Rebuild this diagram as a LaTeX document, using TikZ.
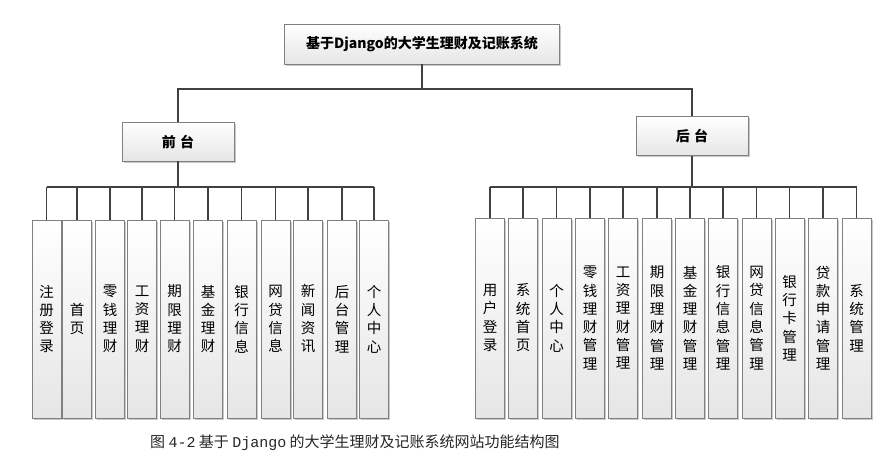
\documentclass[tikz,border=0pt]{standalone}
\usepackage{fontspec}
\setmainfont{Noto Sans CJK SC}
\newfontfamily\monof{Liberation Mono}
\usetikzlibrary{shadows}
\tikzset{
  x=1pt, y=-1pt,
  boxbase/.style={draw=black!50, line width=0.9pt, top color=white, bottom color=black!10,
    drop shadow={shadow xshift=1.6pt, shadow yshift=-1.6pt, opacity=0.35, fill=black!60},
    inner sep=0pt, align=center},
  headbox/.style={boxbase, minimum width=275pt, minimum height=40pt, font=\fontsize{14}{16}\selectfont\bfseries},
  midbox/.style={boxbase, minimum width=112pt, minimum height=39pt, font=\fontsize{14}{16}\selectfont\bfseries},
  leafL/.style={boxbase, minimum width=29pt, minimum height=198pt, font=\fontsize{14.5}{18.3}\selectfont},
  leafR/.style={boxbase, minimum width=29pt, minimum height=200pt, font=\fontsize{14.5}{18.3}\selectfont},
  conn/.style={draw=black!75, line width=1.4pt},
}
\begin{document}
\begin{tikzpicture}
\useasboundingbox[fill=white] (0,0) rectangle (892,475);
% top
\node[headbox] (top) at (422,44) {基于Django的大学生理财及记账系统};
\node[midbox] (qt) at (178,141.5) {前\hspace{0.3em}台};
\node[midbox] (ht) at (692,136) {后\hspace{0.3em}台};
% left leaves
\foreach \i/\x/\t in {1/46.5/{注\\册\\登\\录}, 2/77/{首\\页}, 3/110/{零\\钱\\理\\财}, 4/142/{工\\资\\理\\财},
  5/174.5/{期\\限\\理\\财}, 6/208/{基\\金\\理\\财}, 7/241.5/{银\\行\\信\\息}, 8/275.5/{网\\贷\\信\\息},
  9/308/{新\\闻\\资\\讯}, 10/342/{后\\台\\管\\理}, 11/374/{个\\人\\中\\心}}
  {\node[leafL] (L\i) at (\x,319) {\t};}
% right leaves
\foreach \i/\x/\t in {1/490/{用\\户\\登\\录}, 2/523/{系\\统\\首\\页}, 3/556.5/{个\\人\\中\\心},
  4/590/{零\\钱\\理\\财\\管\\理}, 5/623/{工\\资\\理\\财\\管\\理}, 6/657/{期\\限\\理\\财\\管\\理},
  7/690/{基\\金\\理\\财\\管\\理}, 8/723/{银\\行\\信\\息\\管\\理}, 9/756.5/{网\\贷\\信\\息\\管\\理},
  10/789.5/{银\\行\\卡\\管\\理}, 11/823/{贷\\款\\申\\请\\管\\理}, 12/856.5/{系\\统\\管\\理}}
  {\node[leafR] (R\i) at (\x,318) {\t};}
% connectors
\coordinate (tb) at (422,89);
\draw[conn] (top.south) -- (tb);
\draw[conn] (tb) -| (qt.north);
\draw[conn] (tb) -| (ht.north);
\coordinate (lb) at (178,187);
\draw[conn] (qt.south) -- (lb);
\draw[conn] (L1.north |- lb) -- (L11.north |- lb);
\foreach \i in {1,...,11} {\draw[conn] (L\i.north) -- (L\i.north |- lb);}
\coordinate (rb) at (692,187);
\draw[conn] (ht.south) -- (rb);
\draw[conn] (R1.north |- rb) -- (R12.north |- rb);
\foreach \i in {1,...,12} {\draw[conn] (R\i.north) -- (R\i.north |- rb);}
% caption
\node[anchor=west, inner sep=0pt, font=\fontsize{15}{18}\selectfont, text=black!85] (cap) at (150,443)
  {图 {\monof 4-2} 基于 {\monof Django} 的大学生理财及记账系统网站功能结构图};
\end{tikzpicture}
\end{document}
